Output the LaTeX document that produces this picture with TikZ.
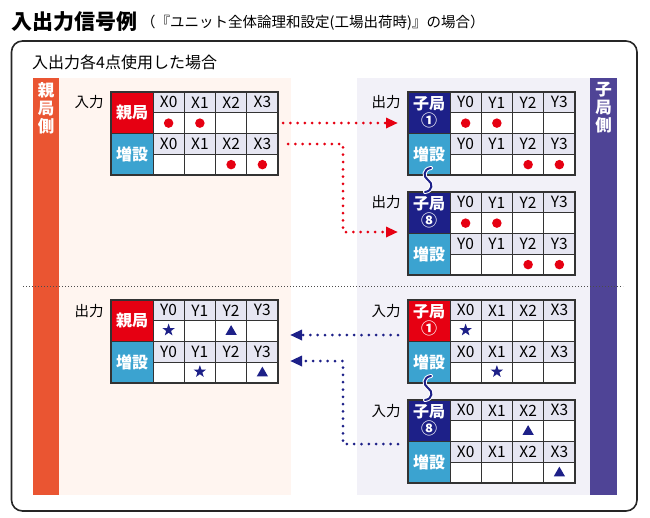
\documentclass[tikz,border=0pt]{standalone}
\usepackage{fontspec}
\setmainfont{Noto Sans CJK JP}
\usetikzlibrary{arrows.meta,shapes.geometric}
\definecolor{myred}{HTML}{E60012}
\definecolor{mynavy}{HTML}{1D2088}
\definecolor{mycyan}{HTML}{3BA3D0}
\definecolor{hdrfill}{HTML}{E6E6F2}
\definecolor{orangebar}{HTML}{EA5532}
\definecolor{purplebar}{HTML}{4F4496}
\definecolor{pinkbg}{HTML}{FFF5F0}
\definecolor{lavbg}{HTML}{F2F1F8}
\definecolor{gridc}{HTML}{333333}
\tikzset{
  cellbase/.style={draw=gridc, line width=0.7pt, inner sep=0pt, outer sep=0pt,
    minimum width=31.25pt, minimum height=20.75pt, anchor=north west},
  hdr/.style={cellbase, fill=hdrfill, font=\fontsize{15.5}{16}\selectfont},
  datacell/.style={cellbase, fill=white},
  labelcell/.style={draw=gridc, line width=0.7pt, inner sep=0pt, outer sep=0pt,
    minimum width=42pt, minimum height=41.5pt, anchor=north west, text=white,
    align=center, font=\bfseries\fontsize{16}{17}\selectfont},
  sidelabel/.style={text=white, align=center, font=\bfseries\fontsize{16.5}{18}\selectfont},
  iolabel/.style={font=\fontsize{14.5}{15}\selectfont},
  dotmark/.style={circle, fill=myred, inner sep=0pt, minimum size=9.5pt},
  starmark/.style={star, star points=5, star point ratio=2.5, fill=mynavy, inner sep=0pt, minimum size=13pt},
  trimark/.style={regular polygon, regular polygon sides=3, fill=mynavy, inner sep=0pt, minimum size=13pt},
  reddots/.style={myred, line width=3pt, line cap=round, dash pattern=on 0pt off 7.3pt,
    -{Triangle[length=12pt,width=10pt]}},
  bluedots/.style={mynavy, line width=3pt, line cap=round, dash pattern=on 0pt off 7.3pt,
    -{Triangle[length=12pt,width=10pt]}},
  wavyline/.style={mynavy, line width=2pt, line cap=round},
  wavyhalo/.style={white, line width=4pt, line cap=round},
}
\newcommand\iotab[6]{%
  \begin{scope}[shift={(#2,#3)}]
    \node[labelcell, fill=#4] (#1-a) at (0,0) {#5};
    \node[labelcell, fill=mycyan] (#1-b) at (0,41.5) {増設};
    \foreach \i in {0,...,3} {
      \node[hdr] (#1-h\i) at ({42+31.25*\i},0) {#6\i};
      \node[datacell] (#1-d\i) at ({42+31.25*\i},20.75) {};
      \node[hdr] (#1-k\i) at ({42+31.25*\i},41.5) {#6\i};
      \node[datacell] (#1-e\i) at ({42+31.25*\i},62.25) {};
    }
    \draw[gridc, line width=1.5pt] (0,0) rectangle (167,83);
    \draw[gridc, line width=1.5pt] (0,41.5) -- (167,41.5);
  \end{scope}}
\newcommand\wavyconn[1]{%
  \draw[wavyhalo] ([shift={(2,-7)}]#1.south) .. controls +(-8,1) and +(-5,-3) .. ([shift={(-1,5)}]#1.south)
     .. controls +(5,3) and +(8,-1) .. ([shift={(-4,17)}]#1.south);
  \draw[wavyline] ([shift={(2,-7)}]#1.south) .. controls +(-8,1) and +(-5,-3) .. ([shift={(-1,5)}]#1.south)
     .. controls +(5,3) and +(8,-1) .. ([shift={(-4,17)}]#1.south);}
\begin{document}
\begin{tikzpicture}[x=1pt,y=-1pt]
  \useasboundingbox (0,0) rectangle (650,517);
  % title
  \node[anchor=west, inner sep=0pt, font=\bfseries\fontsize{21}{22}\selectfont] (title) at (11,21.5) {入出力信号例};
  \node[anchor=west, inner sep=0pt, font=\fontsize{14.5}{16}\selectfont] (subtitle) at (141,23) {（『ユニット全体論理和設定(工場出荷時)』の場合）};
  % outer frame
  \draw[line width=1.6pt, draw=black!85, rounded corners=11pt] (11.5,41) rectangle (637,511);
  \node[anchor=west, inner sep=0pt, font=\fontsize{16}{17}\selectfont] (case) at (32,62.5) {入出力各4点使用した場合};
  % backgrounds
  \fill[pinkbg] (59,78) rectangle (291,495);
  \fill[lavbg] (357,78) rectangle (590,495);
  \fill[orangebar] (33,78) rectangle (59,495);
  \fill[purplebar] (590,78) rectangle (617,495);
  \node[sidelabel] (oyaside) at (46,108) {親\\局\\側};
  \node[sidelabel] (koside) at (603.5,108) {子\\局\\側};
  % separator
  \draw[black!70, line width=1pt, dash pattern=on 1pt off 2pt] (23,286) -- (623,286);
  % tables
  \iotab{T1}{111}{92}{myred}{親局}{X}
  \iotab{T2}{408}{92}{mynavy}{子局\\①}{Y}
  \iotab{T3}{408}{192}{mynavy}{子局\\⑧}{Y}
  \iotab{T4}{111}{300}{myred}{親局}{Y}
  \iotab{T5}{408}{300}{myred}{子局\\①}{X}
  \iotab{T6}{408}{400}{mynavy}{子局\\⑧}{X}
  % io labels
  \node[iolabel] (l1) at (89,102) {入力};
  \node[iolabel] (l2) at (386,102) {出力};
  \node[iolabel] (l3) at (386,202) {出力};
  \node[iolabel] (l4) at (89,311) {出力};
  \node[iolabel] (l5) at (386,311) {入力};
  \node[iolabel] (l6) at (386,411) {入力};
  % marks
  \node[dotmark] (m1) at (T1-d0) {};
  \node[dotmark] (m2) at (T1-d1) {};
  \node[dotmark] (m3) at (T1-e2) {};
  \node[dotmark] (m4) at (T1-e3) {};
  \node[dotmark] (m5) at (T2-d0) {};
  \node[dotmark] (m6) at (T2-d1) {};
  \node[dotmark] (m7) at (T2-e2) {};
  \node[dotmark] (m8) at (T2-e3) {};
  \node[dotmark] (m9) at (T3-d0) {};
  \node[dotmark] (m10) at (T3-d1) {};
  \node[dotmark] (m11) at (T3-e2) {};
  \node[dotmark] (m12) at (T3-e3) {};
  \node[starmark] (s1) at ([yshift=1pt]T4-d0) {};
  \node[trimark] (t1) at ([yshift=-0.5pt]T4-d2) {};
  \node[starmark] (s2) at ([yshift=1pt]T4-e1) {};
  \node[trimark] (t2) at ([yshift=-0.5pt]T4-e3) {};
  \node[starmark] (s3) at ([yshift=1pt]T5-d0) {};
  \node[starmark] (s4) at ([yshift=1pt]T5-e1) {};
  \node[trimark] (t3) at ([yshift=-0.5pt]T6-d2) {};
  \node[trimark] (t4) at ([yshift=-0.5pt]T6-e3) {};
  % wavy connectors
  \wavyconn{T2-b}
  \wavyconn{T5-b}
  % arrows
  \coordinate (r1s) at (283,123);
  \coordinate (r1e) at (398,123);
  \coordinate (r2s) at (288,144);
  \coordinate (r2c1) at (343,144);
  \coordinate (r2c2) at (343,232);
  \coordinate (r2e) at (398,232);
  \draw[reddots] (r1s) -- (r1e);
  \draw[reddots] (r2s) -- (r2c1) -- (r2c2) -- (r2e);
  \coordinate (b1s) at (398,335);
  \coordinate (b1e) at (290,335);
  \coordinate (b2s) at (398,444);
  \coordinate (b2c1) at (343,444);
  \coordinate (b2c2) at (343,361);
  \coordinate (b2e) at (290,361);
  \draw[bluedots] (b1s) -- (b1e);
  \draw[bluedots] (b2s) -- (b2c1) -- (b2c2) -- (b2e);
\end{tikzpicture}
\end{document}
